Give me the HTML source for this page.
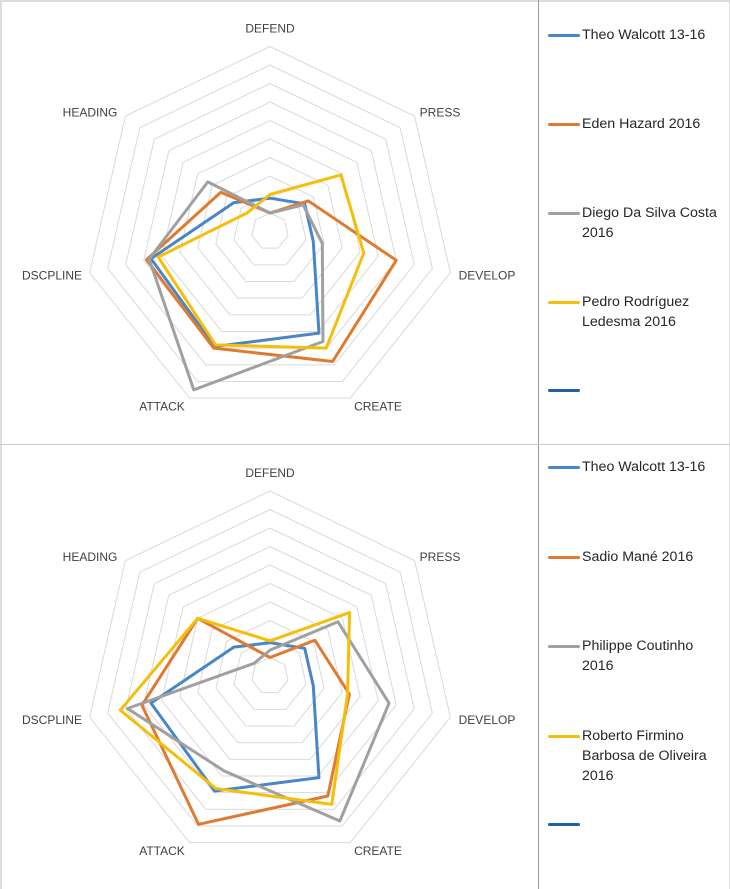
<!DOCTYPE html>
<html><head><meta charset="utf-8">
<style>
html,body{margin:0;padding:0;background:#fff;}
body{width:730px;height:889px;overflow:hidden;position:relative;font-family:"Liberation Sans",sans-serif;}
.lg{position:absolute;font-size:14.2px;color:#262626;line-height:20px;white-space:normal;}
.sw{position:absolute;width:32px;height:3px;border-radius:2px;}
</style></head>
<body>
<div style="position:absolute;left:0;top:0;width:727px;height:887px;border-top:2px solid #ddd;border-left:2px solid #ddd;border-right:1px solid #ddd;"></div>
<div style="position:absolute;left:538px;top:0;width:1px;height:889px;background:#9a9a9a;"></div>
<div style="position:absolute;left:0;top:444px;width:730px;height:1px;background:#ccc;"></div>
<svg id="chart" width="730" height="889" style="position:absolute;left:0;top:0"></svg>
<div id="legends"></div>
<script>
const axes = ["DEFEND","PRESS","DEVELOP","CREATE","ATTACK","DSCPLINE","HEADING"];
const maxVal = 10;
const ringCount = 10;
const chart1Names = ["Theo Walcott 13-16","Eden Hazard 2016","Diego Da Silva Costa 2016","Pedro Rodríguez Ledesma 2016"];
const chart1Walcott = [1.8,2.4,2.4,6.1,6.9,6.6,2.5];
const chart1Hazard = [1.0,2.65,7.0,7.8,7.0,6.85,3.4];
const chart1Costa = [1.0,2.3,2.9,6.6,9.5,6.7,4.3];
const chart1Pedro = [2.0,4.9,5.2,7.0,6.8,6.2,1.6];
const chart2Names = ["Theo Walcott 13-16","Sadio Mané 2016","Philippe Coutinho 2016","Roberto Firmino Barbosa de Oliveira 2016"];
const chart2Walcott = [1.8,2.4,2.4,6.1,6.9,6.6,2.5];
const chart2Mane = [1.0,3.1,4.4,7.2,8.9,7.1,5.0];
const chart2Coutinho = [1.4,4.7,6.6,8.7,5.7,7.9,1.1];
const chart2Firmino = [1.9,5.5,4.3,7.7,6.75,8.3,5.0];
const colors = ["#4a86c5","#e07a30","#a0a0a0","#f5be0b"];

const NS="http://www.w3.org/2000/svg";
const svg=document.getElementById('chart');
const R=185;
function pt(cx,cy,i,v){const a=i*2*Math.PI/7;const r=v/maxVal*R;return [cx+r*Math.sin(a),cy-r*Math.cos(a)];}
function drawRadar(cx,cy,series,prefix){
  for(let k=1;k<=ringCount;k++){
    const p=document.createElementNS(NS,'polygon');
    p.setAttribute('points',axes.map((_,i)=>pt(cx,cy,i,k*maxVal/ringCount).join(',')).join(' '));
    p.setAttribute('fill','none');p.setAttribute('stroke','#d9d9d9');p.setAttribute('stroke-width','1');
    
    
    svg.appendChild(p);
  }
  const labelPos=[[0,-199,'middle'],[170,-115,'middle'],[217,48,'middle'],[108,179,'middle'],[-108,179,'middle'],[-218,48,'middle'],[-180,-115,'middle']];
  axes.forEach((a,i)=>{
    const t=document.createElementNS(NS,'text');
    t.setAttribute('x',cx+labelPos[i][0]);t.setAttribute('y',cy+labelPos[i][1]);
    t.setAttribute('text-anchor',labelPos[i][2]);t.setAttribute('font-size','12');t.setAttribute('fill','#404040');
    t.setAttribute('font-family','Liberation Sans, sans-serif');
    t.textContent=a;
    
    
    svg.appendChild(t);
  });
  series.forEach((s,j)=>{
    const p=document.createElementNS(NS,'polygon');
    p.setAttribute('points',s.map((v,i)=>pt(cx,cy,i,v).join(',')).join(' '));
    p.setAttribute('fill','none');p.setAttribute('stroke',colors[j]);p.setAttribute('stroke-width','3');
    p.setAttribute('stroke-linejoin','round');
    
    
    svg.appendChild(p);
  });
}
drawRadar(270,231.5,[chart1Walcott,chart1Hazard,chart1Costa,chart1Pedro],'chart1');
drawRadar(270,676,[chart2Walcott,chart2Mane,chart2Coutinho,chart2Firmino],'chart2');

const lg=document.getElementById('legends');
function legend(top,names,lineTops){
  names.forEach((n,j)=>{
    const sw=document.createElement('div');sw.className='sw';
    sw.style.left='548px';sw.style.top=(lineTops[j]-1)+'px';sw.style.background=colors[j];
    
    
    lg.appendChild(sw);
    const t=document.createElement('div');t.className='lg';
    t.style.left='582px';t.style.top=(lineTops[j]-10)+'px';t.style.width='146px';
    t.textContent=n;
    
    
    lg.appendChild(t);
  });
  const e=document.createElement('div');e.className='sw';
  e.style.left='548px';e.style.top=(top-1)+'px';e.style.background='#1f5fa8';
  
  
  lg.appendChild(e);
}
legend(390,chart1Names,[35,124,213,302]);
legend(824,chart2Names,[467,557,646,736]);
</script>
</body></html>
